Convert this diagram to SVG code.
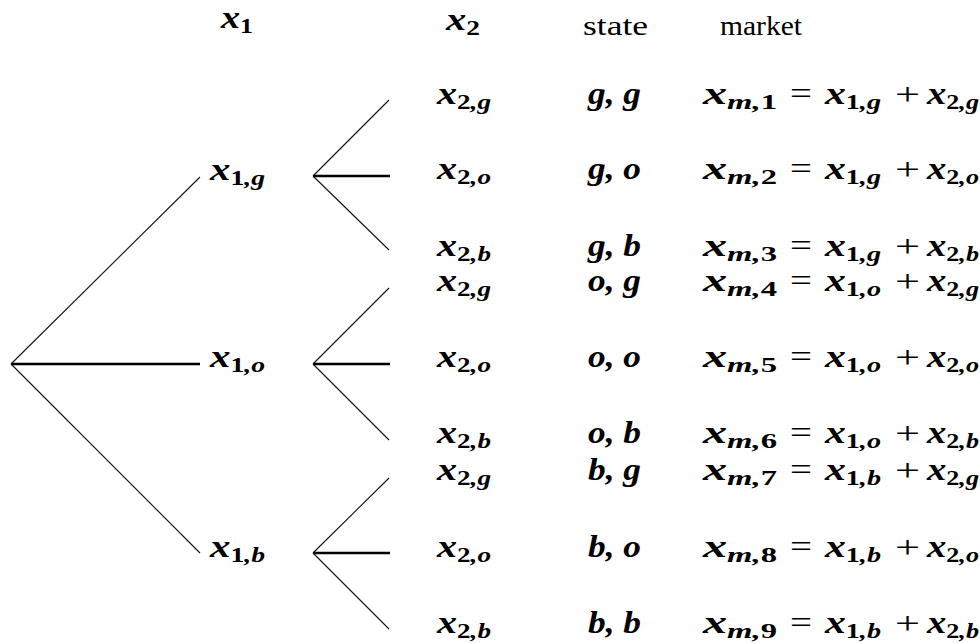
<svg xmlns="http://www.w3.org/2000/svg" width="980" height="643" viewBox="0 0 980 643">
<style>
.m{font-family:"Liberation Serif","Times New Roman",serif;font-weight:bold;font-style:italic;font-size:31px;fill:#000}
.s{font-size:21px;font-style:normal}
.si{font-size:21px;font-style:italic}
.op{font-family:"Liberation Serif","Times New Roman",serif;font-weight:normal;font-style:normal;font-size:32px;fill:#000}
.r{font-family:"Liberation Serif","Times New Roman",serif;font-size:28px;fill:#000}
.d{stroke:#111;stroke-width:1.1;fill:none}
.h{stroke:#000;stroke-width:2.6;fill:none}
</style>
<rect width="980" height="643" fill="#fff"/>
<g id="headers">
<text class="m" x="221" y="28" textLength="32" lengthAdjust="spacingAndGlyphs">x<tspan class="s" dy="5">1</tspan></text>
<text class="m" x="446" y="30" textLength="34" lengthAdjust="spacingAndGlyphs">x<tspan class="s" dy="5">2</tspan></text>
<text class="r" x="583" y="35" textLength="65" lengthAdjust="spacingAndGlyphs">state</text>
<text class="r" x="720" y="35" textLength="82" lengthAdjust="spacingAndGlyphs">market</text>
</g>
<g id="connectors">
<line class="d" x1="11" y1="364" x2="200" y2="177"/>
<line class="h" x1="11" y1="364" x2="200" y2="364"/>
<line class="d" x1="11" y1="364" x2="200" y2="553"/>
<line class="d" x1="313" y1="176" x2="389" y2="100"/>
<line class="h" x1="313" y1="176" x2="390" y2="176"/>
<line class="d" x1="313" y1="176" x2="389" y2="250"/>
<line class="d" x1="313" y1="364" x2="389" y2="288"/>
<line class="h" x1="313" y1="364" x2="390" y2="364"/>
<line class="d" x1="313" y1="364" x2="389" y2="440"/>
<line class="d" x1="313" y1="553" x2="389" y2="478"/>
<line class="h" x1="313" y1="553" x2="390" y2="553"/>
<line class="d" x1="313" y1="553" x2="389" y2="629"/>
</g>
<g id="n-x1g"><text class="m" x="210" y="180" textLength="55" lengthAdjust="spacingAndGlyphs">x<tspan class="s" dy="5">1</tspan><tspan class="si">,g</tspan></text></g>
<g id="n-x1o"><text class="m" x="210" y="367" textLength="55" lengthAdjust="spacingAndGlyphs">x<tspan class="s" dy="5">1</tspan><tspan class="si">,o</tspan></text></g>
<g id="n-x1b"><text class="m" x="210" y="557" textLength="55" lengthAdjust="spacingAndGlyphs">x<tspan class="s" dy="5">1</tspan><tspan class="si">,b</tspan></text></g>

<g id="row1">
<text class="m" x="437" y="104" textLength="54" lengthAdjust="spacingAndGlyphs">x<tspan class="s" dy="5">2</tspan><tspan class="si">,g</tspan></text>
<text class="m" x="588" y="104" textLength="53" lengthAdjust="spacingAndGlyphs">g, g</text>
<text class="m" x="703" y="104" textLength="74" lengthAdjust="spacingAndGlyphs">x<tspan class="si" dy="5">m,</tspan><tspan class="s">1</tspan></text>
<text class="op" x="790" y="104" textLength="22" lengthAdjust="spacingAndGlyphs">=</text>
<text class="m" x="825" y="104" textLength="56" lengthAdjust="spacingAndGlyphs">x<tspan class="s" dy="5">1</tspan><tspan class="si">,g</tspan></text>
<text class="op" x="895" y="105" textLength="25" lengthAdjust="spacingAndGlyphs">+</text>
<text class="m" x="927" y="104" textLength="52" lengthAdjust="spacingAndGlyphs">x<tspan class="s" dy="5">2</tspan><tspan class="si">,g</tspan></text>
</g>
<g id="row2">
<text class="m" x="437" y="179" textLength="54" lengthAdjust="spacingAndGlyphs">x<tspan class="s" dy="5">2</tspan><tspan class="si">,o</tspan></text>
<text class="m" x="588" y="179" textLength="53" lengthAdjust="spacingAndGlyphs">g, o</text>
<text class="m" x="703" y="179" textLength="74" lengthAdjust="spacingAndGlyphs">x<tspan class="si" dy="5">m,</tspan><tspan class="s">2</tspan></text>
<text class="op" x="790" y="179" textLength="22" lengthAdjust="spacingAndGlyphs">=</text>
<text class="m" x="825" y="179" textLength="56" lengthAdjust="spacingAndGlyphs">x<tspan class="s" dy="5">1</tspan><tspan class="si">,g</tspan></text>
<text class="op" x="895" y="180" textLength="25" lengthAdjust="spacingAndGlyphs">+</text>
<text class="m" x="927" y="179" textLength="52" lengthAdjust="spacingAndGlyphs">x<tspan class="s" dy="5">2</tspan><tspan class="si">,o</tspan></text>
</g>
<g id="row3">
<text class="m" x="437" y="256" textLength="54" lengthAdjust="spacingAndGlyphs">x<tspan class="s" dy="5">2</tspan><tspan class="si">,b</tspan></text>
<text class="m" x="588" y="256" textLength="53" lengthAdjust="spacingAndGlyphs">g, b</text>
<text class="m" x="703" y="256" textLength="74" lengthAdjust="spacingAndGlyphs">x<tspan class="si" dy="5">m,</tspan><tspan class="s">3</tspan></text>
<text class="op" x="790" y="256" textLength="22" lengthAdjust="spacingAndGlyphs">=</text>
<text class="m" x="825" y="256" textLength="56" lengthAdjust="spacingAndGlyphs">x<tspan class="s" dy="5">1</tspan><tspan class="si">,g</tspan></text>
<text class="op" x="895" y="257" textLength="25" lengthAdjust="spacingAndGlyphs">+</text>
<text class="m" x="927" y="256" textLength="52" lengthAdjust="spacingAndGlyphs">x<tspan class="s" dy="5">2</tspan><tspan class="si">,b</tspan></text>
</g>
<g id="row4">
<text class="m" x="437" y="291" textLength="54" lengthAdjust="spacingAndGlyphs">x<tspan class="s" dy="5">2</tspan><tspan class="si">,g</tspan></text>
<text class="m" x="588" y="291" textLength="53" lengthAdjust="spacingAndGlyphs">o, g</text>
<text class="m" x="703" y="291" textLength="74" lengthAdjust="spacingAndGlyphs">x<tspan class="si" dy="5">m,</tspan><tspan class="s">4</tspan></text>
<text class="op" x="790" y="291" textLength="22" lengthAdjust="spacingAndGlyphs">=</text>
<text class="m" x="825" y="291" textLength="56" lengthAdjust="spacingAndGlyphs">x<tspan class="s" dy="5">1</tspan><tspan class="si">,o</tspan></text>
<text class="op" x="895" y="292" textLength="25" lengthAdjust="spacingAndGlyphs">+</text>
<text class="m" x="927" y="291" textLength="52" lengthAdjust="spacingAndGlyphs">x<tspan class="s" dy="5">2</tspan><tspan class="si">,g</tspan></text>
</g>
<g id="row5">
<text class="m" x="437" y="367" textLength="54" lengthAdjust="spacingAndGlyphs">x<tspan class="s" dy="5">2</tspan><tspan class="si">,o</tspan></text>
<text class="m" x="588" y="367" textLength="53" lengthAdjust="spacingAndGlyphs">o, o</text>
<text class="m" x="703" y="367" textLength="74" lengthAdjust="spacingAndGlyphs">x<tspan class="si" dy="5">m,</tspan><tspan class="s">5</tspan></text>
<text class="op" x="790" y="367" textLength="22" lengthAdjust="spacingAndGlyphs">=</text>
<text class="m" x="825" y="367" textLength="56" lengthAdjust="spacingAndGlyphs">x<tspan class="s" dy="5">1</tspan><tspan class="si">,o</tspan></text>
<text class="op" x="895" y="368" textLength="25" lengthAdjust="spacingAndGlyphs">+</text>
<text class="m" x="927" y="367" textLength="52" lengthAdjust="spacingAndGlyphs">x<tspan class="s" dy="5">2</tspan><tspan class="si">,o</tspan></text>
</g>
<g id="row6">
<text class="m" x="437" y="443" textLength="54" lengthAdjust="spacingAndGlyphs">x<tspan class="s" dy="5">2</tspan><tspan class="si">,b</tspan></text>
<text class="m" x="588" y="443" textLength="53" lengthAdjust="spacingAndGlyphs">o, b</text>
<text class="m" x="703" y="443" textLength="74" lengthAdjust="spacingAndGlyphs">x<tspan class="si" dy="5">m,</tspan><tspan class="s">6</tspan></text>
<text class="op" x="790" y="443" textLength="22" lengthAdjust="spacingAndGlyphs">=</text>
<text class="m" x="825" y="443" textLength="56" lengthAdjust="spacingAndGlyphs">x<tspan class="s" dy="5">1</tspan><tspan class="si">,o</tspan></text>
<text class="op" x="895" y="444" textLength="25" lengthAdjust="spacingAndGlyphs">+</text>
<text class="m" x="927" y="443" textLength="52" lengthAdjust="spacingAndGlyphs">x<tspan class="s" dy="5">2</tspan><tspan class="si">,b</tspan></text>
</g>
<g id="row7">
<text class="m" x="437" y="480" textLength="54" lengthAdjust="spacingAndGlyphs">x<tspan class="s" dy="5">2</tspan><tspan class="si">,g</tspan></text>
<text class="m" x="588" y="480" textLength="53" lengthAdjust="spacingAndGlyphs">b, g</text>
<text class="m" x="703" y="480" textLength="74" lengthAdjust="spacingAndGlyphs">x<tspan class="si" dy="5">m,</tspan><tspan class="s">7</tspan></text>
<text class="op" x="790" y="480" textLength="22" lengthAdjust="spacingAndGlyphs">=</text>
<text class="m" x="825" y="480" textLength="56" lengthAdjust="spacingAndGlyphs">x<tspan class="s" dy="5">1</tspan><tspan class="si">,b</tspan></text>
<text class="op" x="895" y="481" textLength="25" lengthAdjust="spacingAndGlyphs">+</text>
<text class="m" x="927" y="480" textLength="52" lengthAdjust="spacingAndGlyphs">x<tspan class="s" dy="5">2</tspan><tspan class="si">,g</tspan></text>
</g>
<g id="row8">
<text class="m" x="437" y="557" textLength="54" lengthAdjust="spacingAndGlyphs">x<tspan class="s" dy="5">2</tspan><tspan class="si">,o</tspan></text>
<text class="m" x="588" y="557" textLength="53" lengthAdjust="spacingAndGlyphs">b, o</text>
<text class="m" x="703" y="557" textLength="74" lengthAdjust="spacingAndGlyphs">x<tspan class="si" dy="5">m,</tspan><tspan class="s">8</tspan></text>
<text class="op" x="790" y="557" textLength="22" lengthAdjust="spacingAndGlyphs">=</text>
<text class="m" x="825" y="557" textLength="56" lengthAdjust="spacingAndGlyphs">x<tspan class="s" dy="5">1</tspan><tspan class="si">,b</tspan></text>
<text class="op" x="895" y="558" textLength="25" lengthAdjust="spacingAndGlyphs">+</text>
<text class="m" x="927" y="557" textLength="52" lengthAdjust="spacingAndGlyphs">x<tspan class="s" dy="5">2</tspan><tspan class="si">,o</tspan></text>
</g>
<g id="row9">
<text class="m" x="437" y="633" textLength="54" lengthAdjust="spacingAndGlyphs">x<tspan class="s" dy="5">2</tspan><tspan class="si">,b</tspan></text>
<text class="m" x="588" y="633" textLength="53" lengthAdjust="spacingAndGlyphs">b, b</text>
<text class="m" x="703" y="633" textLength="74" lengthAdjust="spacingAndGlyphs">x<tspan class="si" dy="5">m,</tspan><tspan class="s">9</tspan></text>
<text class="op" x="790" y="633" textLength="22" lengthAdjust="spacingAndGlyphs">=</text>
<text class="m" x="825" y="633" textLength="56" lengthAdjust="spacingAndGlyphs">x<tspan class="s" dy="5">1</tspan><tspan class="si">,b</tspan></text>
<text class="op" x="895" y="634" textLength="25" lengthAdjust="spacingAndGlyphs">+</text>
<text class="m" x="927" y="633" textLength="52" lengthAdjust="spacingAndGlyphs">x<tspan class="s" dy="5">2</tspan><tspan class="si">,b</tspan></text>
</g>
</svg>
